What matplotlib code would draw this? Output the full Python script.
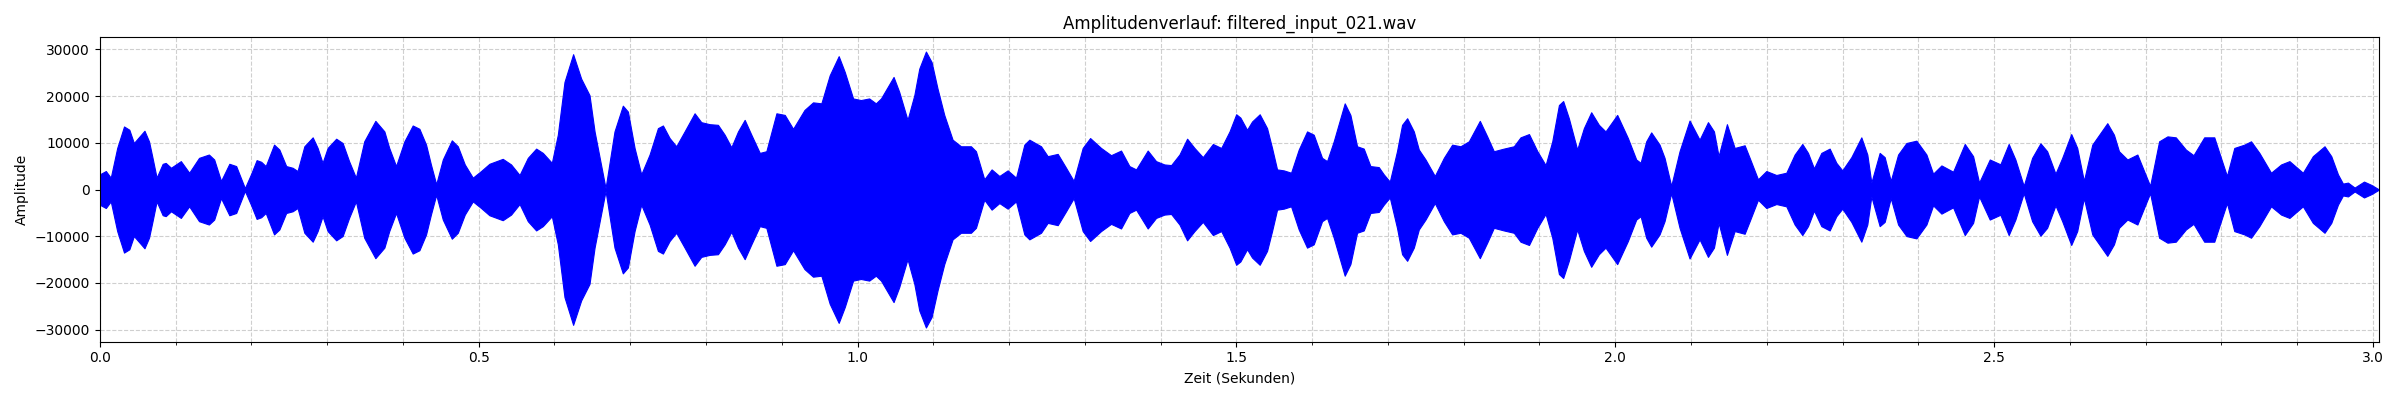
import numpy as np
import matplotlib
matplotlib.use("Agg")
import matplotlib.pyplot as plt
from matplotlib.ticker import MultipleLocator

# Huellkurve des Signals (Zeit in s, Spitzenamplitude)
zeit = [
    0.000, 0.008, 0.0145, 0.023, 0.032, 0.039, 0.045, 0.059, 0.065, 0.0696,
    0.075, 0.083, 0.087, 0.094, 0.107, 0.118, 0.131, 0.144, 0.151, 0.160,
    0.171, 0.180, 0.1915, 0.1995, 0.207, 0.213, 0.219, 0.230, 0.237, 0.246,
    0.2545, 0.261, 0.270, 0.281, 0.2875, 0.294, 0.3007, 0.312, 0.3205, 0.329,
    0.338, 0.349, 0.3637, 0.3756, 0.382, 0.391, 0.402, 0.413, 0.4218, 0.4306,
    0.437, 0.444, 0.4527, 0.4646, 0.4725, 0.4817, 0.4923, 0.5032, 0.5142, 0.5318,
    0.5428, 0.554, 0.5649, 0.5759, 0.5847, 0.5966, 0.6045, 0.6133, 0.6247, 0.6353,
    0.6463, 0.653, 0.6675, 0.6793, 0.6903, 0.697, 0.7058, 0.7146, 0.7256, 0.7366,
    0.7432, 0.752, 0.7608, 0.7718, 0.785, 0.7938, 0.8048, 0.8158, 0.8247, 0.8335,
    0.8423, 0.8511, 0.8599, 0.871, 0.8797, 0.893, 0.904, 0.915, 0.930, 0.9413,
    0.9523, 0.9633, 0.9752, 0.9832, 0.9942, 1.0044, 1.0154, 1.0242, 1.031, 1.0374,
    1.0476, 1.055, 1.066, 1.075, 1.0815, 1.0903, 1.0978, 1.1056, 1.1145, 1.1255,
    1.1365, 1.1497, 1.1563, 1.1673, 1.177, 1.1872, 1.1982, 1.2092, 1.2202, 1.2268,
    1.2422, 1.251, 1.2642, 1.2752, 1.2853, 1.2972, 1.307, 1.3214, 1.3346, 1.3478,
    1.3588, 1.3677, 1.383, 1.394, 1.405, 1.4139, 1.4249, 1.435, 1.4447, 1.4557,
    1.469, 1.48, 1.491, 1.4998, 1.5053, 1.5141, 1.5207, 1.5308, 1.5405, 1.5471,
    1.5537, 1.5625, 1.5722, 1.5823, 1.5933, 1.6021, 1.6131, 1.6197, 1.6285, 1.6373,
    1.643, 1.6505, 1.6593, 1.6681, 1.6769, 1.6879, 1.6945, 1.7025, 1.712, 1.7187,
    1.7254, 1.7342, 1.7408, 1.7496, 1.7619, 1.7738, 1.7848, 1.7958, 1.8068, 1.8213,
    1.831, 1.8398, 1.853, 1.8662, 1.875, 1.8862, 1.8972, 1.9081, 1.9169, 1.9257,
    1.9313, 1.9388, 1.9498, 1.9586, 1.9683, 1.9784, 1.9872, 2.0026, 2.0167, 2.0277,
    2.0335, 2.0409, 2.0475, 2.0585, 2.0651, 2.0739, 2.0849, 2.0981, 2.1113, 2.1224,
    2.1303, 2.1364, 2.1474, 2.1576, 2.1708, 2.1774, 2.1884, 2.1994, 2.2126, 2.2258,
    2.2368, 2.2469, 2.2544, 2.2623, 2.272, 2.283, 2.2918, 2.2997, 2.3116, 2.3248,
    2.3327, 2.338, 2.349, 2.3556, 2.3636, 2.3733, 2.3843, 2.3975, 2.4107, 2.4195,
    2.4305, 2.4459, 2.4613, 2.4723, 2.4802, 2.4943, 2.5083, 2.5193, 2.5281, 2.5391,
    2.5502, 2.5612, 2.570, 2.581, 2.5899, 2.6018, 2.6097, 2.6185, 2.6296, 2.6494,
    2.6582, 2.6648, 2.6759, 2.6891, 2.6979, 2.7059, 2.7178, 2.7288, 2.7398, 2.7531,
    2.7632, 2.7773, 2.7906, 2.7994, 2.8073, 2.817, 2.8303, 2.8391, 2.8501, 2.8655,
    2.8788, 2.8898, 2.9075, 2.9207, 2.9361, 2.945, 2.9538, 2.9604, 2.967, 2.9758,
    2.9882, 2.9979, 3.0067,
]

huelle = [
    3250, 3960, 2540, 8900, 13500, 12800, 9960, 12580, 10300, 6800,
    2540, 5500, 5700, 4660, 6080, 3600, 6780, 7490, 6430, 1840,
    5510, 5020, 300, 3250, 6290, 5940, 5020, 9610, 8550, 5020,
    4660, 3960, 9260, 11170, 8900, 5720, 8900, 10880, 9960, 6080,
    2540, 10320, 14700, 12440, 8900, 5020, 10320, 13710, 13000, 9610,
    5370, 1130, 6430, 10530, 9260, 5370, 2540, 3960, 5510, 6570,
    5370, 3110, 6780, 8760, 7840, 5720, 11730, 23040, 28970, 23740,
    20210, 12440, 300, 12440, 17950, 16680, 8900, 3250, 7490, 13140,
    13710, 11020, 9260, 12440, 16320, 14420, 13990, 13850, 11730, 9050,
    12440, 14910, 11730, 7840, 8200, 16320, 15970, 13000, 17030, 18660,
    18450, 24450, 28550, 25160, 19500, 19150, 19500, 18450, 19500, 21270,
    24100, 20920, 14910, 20210, 25870, 29540, 27280, 21620, 15970, 10670,
    9260, 9260, 8200, 2190, 4310, 2900, 4100, 2540, 9610, 10670,
    9260, 7140, 7630, 4660, 1840, 8900, 11020, 8900, 7350, 8340,
    5020, 4310, 8340, 6080, 5370, 5230, 7490, 10880, 8900, 6930,
    9750, 8900, 12440, 16110, 15400, 12790, 14560, 16110, 13140, 8900,
    4310, 4100, 3600, 8550, 12440, 11730, 6780, 6080, 10320, 15260,
    18450, 15970, 9260, 8760, 5020, 4800, 3250, 1700, 8200, 13850,
    15260, 12440, 8550, 6430, 2900, 6780, 9610, 9260, 10320, 14700,
    11380, 8200, 8760, 9260, 11170, 11870, 8200, 5230, 10320, 18090,
    18940, 15260, 8550, 13140, 16540, 13850, 12440, 15970, 11020, 6430,
    5720, 10320, 12230, 9610, 6780, 780, 8200, 14770, 10670, 14420,
    12440, 7140, 13990, 8900, 9470, 6780, 2190, 3960, 3110, 3600,
    7490, 9750, 7840, 4520, 7840, 8760, 5720, 4100, 6930, 11170,
    7490, 1480, 7840, 6930, 1840, 7490, 9960, 10460, 7490, 3390,
    5160, 3820, 9750, 7140, 1480, 6430, 5400, 9750, 6430, 780,
    6780, 9890, 8200, 3390, 6780, 11870, 8900, 1840, 9610, 14200,
    11730, 8200, 6430, 7490, 3960, 780, 10320, 11380, 11170, 8550,
    7350, 11170, 11170, 6780, 2900, 8900, 9610, 10320, 7840, 3600,
    5370, 6080, 3600, 7140, 9260, 7140, 3250, 1270, 1480, 420,
    1700, 990, 140,
]

titel = "Amplitudenverlauf: filtered_input_021.wav"
dauer = 3.008

t = np.array(zeit)
env = np.array(huelle)

fig, ax = plt.subplots(figsize=(24, 4), dpi=100)
ax.fill_between(t, -env, env, color="blue", edgecolor="blue", linewidth=0.8)

ax.set_title(titel)
ax.set_xlabel("Zeit (Sekunden)")
ax.set_ylabel("Amplitude")
ax.set_xlim(0, dauer)
ax.set_ylim(-32580, 32580)
ax.xaxis.set_major_locator(MultipleLocator(0.5))
ax.xaxis.set_minor_locator(MultipleLocator(0.1))
ax.yaxis.set_major_locator(MultipleLocator(10000))
ax.grid(True, which="both", linestyle="--", alpha=0.6)
ax.set_axisbelow(True)

plt.tight_layout()
plt.savefig("out.png")
